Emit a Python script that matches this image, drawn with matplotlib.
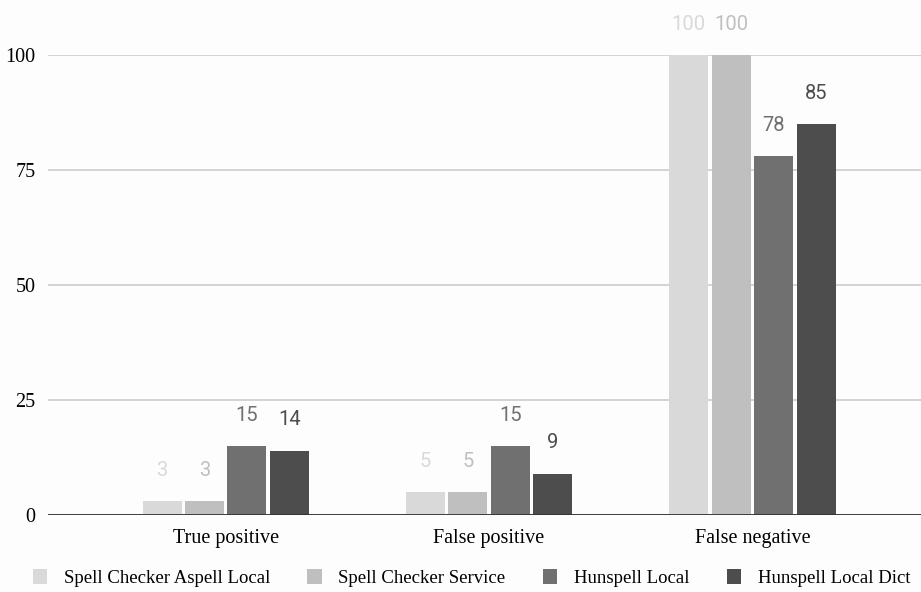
import numpy as np
import matplotlib.pyplot as plt

# Datos
categories = ["True positive", "False positive", "False negative"]
series = ["Spell Checker Aspell Local", "Spell Checker Service",
          "Hunspell Local", "Hunspell Local Dict"]
aspell = [3, 5, 100]
service = [3, 5, 100]
hunspell = [15, 15, 78]
hunspell_dict = [14, 9, 85]
values = [aspell, service, hunspell, hunspell_dict]
colors = ["#d9d9d9", "#bfbfbf", "#707070", "#4d4d4d"]
yticks = [0, 25, 50, 75, 100]

fig = plt.figure(figsize=(9.21, 5.92), dpi=100, facecolor="#fdfdfd")
ax = fig.add_axes([48 / 921, 77 / 592, 873 / 921, 460 / 592])
ax.set_facecolor("#fdfdfd")

x = np.arange(len(categories))
width = 0.148
pitch = 0.161
for i, (name, vals, c) in enumerate(zip(series, values, colors)):
    pos = x + (i - 1.5) * pitch
    ax.bar(pos, vals, width, color=c, label=name, zorder=3)
    for p, v in zip(pos, vals):
        ax.text(p, v + 6.7, str(v), ha="center", va="center", color=c,
                fontsize=14.5, family="Roboto", clip_on=False)

ax.set_xlim(-0.675, 2.64)
ax.set_ylim(0, 100)
ax.set_yticks(yticks)
ax.set_xticks(x)
ax.set_xticklabels(categories, family="Liberation Serif", fontsize=14.5)
ax.set_yticklabels([str(t) for t in yticks], family="Liberation Serif", fontsize=14.5)
ax.tick_params(length=0, pad=9)
ax.tick_params(axis="x", pad=10)
ax.grid(axis="y", color="#cccccc", linewidth=1.2, zorder=0)
ax.axhline(0, color="#333333", linewidth=1.3, zorder=4)
for s in ax.spines.values():
    s.set_visible(False)

fig.legend(loc="lower center", bbox_to_anchor=(0.512, -0.02), ncol=4, frameon=False,
           prop={"family": "Liberation Serif", "size": 13.5},
           handlelength=0.75, handleheight=0.9, handletextpad=0.9, columnspacing=2.0)

fig.savefig("out.png", dpi=100, facecolor=fig.get_facecolor())
